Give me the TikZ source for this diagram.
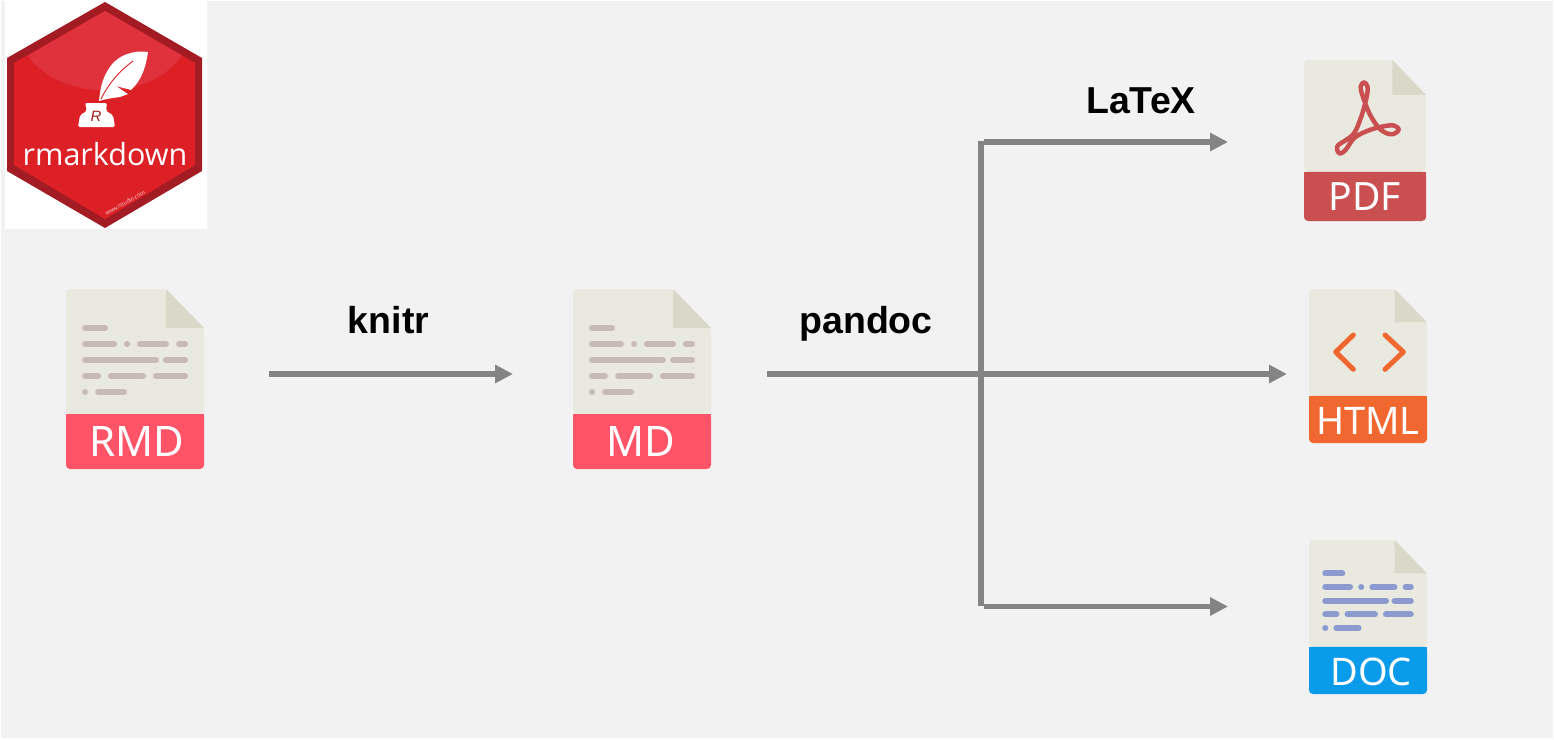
\documentclass[tikz,border=0pt]{standalone}
\usepackage{fontspec}
\setmainfont{Liberation Sans}
\newfontfamily\iconfont{Noto Sans}
\newfontfamily\hexfont{Open Sans}
\usetikzlibrary{arrows.meta}
\definecolor{bggrey}{HTML}{F2F2F2}
\definecolor{paper}{HTML}{E9E9E0}
\definecolor{foldc}{HTML}{D9D8C9}
\definecolor{rmdred}{HTML}{FF5367}
\definecolor{pdfred}{HTML}{C94F50}
\definecolor{htmlor}{HTML}{F0682F}
\definecolor{docblue}{HTML}{0A9BEA}
\definecolor{tanline}{HTML}{C8BBB7}
\definecolor{blueline}{HTML}{8B9BD0}
\definecolor{linkgrey}{HTML}{848484}
\definecolor{hexdark}{HTML}{A31C24}
\definecolor{hexred}{HTML}{DC2026}
\definecolor{hexlight}{HTML}{E0323C}
\tikzset{
  link/.style={draw=linkgrey,line width=5.8pt},
  arrowlink/.style={link,-{Triangle[length=18pt,width=17.5pt]}},
  steplabel/.style={font=\fontsize{37.5}{40}\selectfont\bfseries,text=black,inner sep=0pt,anchor=base},
  bandlabel/.style={text=white,inner sep=0pt,anchor=center},
  textline/.style={line width=6pt,line cap=round}
}
% #1 x, #2 y, #3 width, #4 height, #5 band colour
\newcommand{\fileicon}[5]{%
  \begin{scope}[shift={(#1,#2)},xscale=#3/138,yscale=#4/180]
    \fill[paper,rounded corners=4pt] (0,125) -- (0,0) -- (100,0) -- (138,39) -- (138,125) -- cycle;
    \fill[foldc] (100,0) -- (138,39) -- (100,39) -- cycle;
    \fill[#5,rounded corners=4pt] (0,125) -- (0,180) -- (138,180) -- (138,125) -- cycle;
    \fill[#5] (0,125) rectangle (138,135);
  \end{scope}}
% #1 x, #2 y, #3 width, #4 height, #5 line colour
\newcommand{\textlines}[5]{%
  \begin{scope}[shift={(#1,#2)},xscale=#3/138,yscale=#4/180]
    \draw[textline,#5]
      (19,39) -- (39,39)
      (19,55) -- (48,55) (61,55) -- (61.1,55) (74,55) -- (100,55) (113,55) -- (119,55)
      (19,71) -- (90,71) (100,71) -- (119,71)
      (19,87) -- (32,87) (45,87) -- (77,87) (90,87) -- (119,87)
      (19,103) -- (19.1,103) (32,103) -- (58,103);
  \end{scope}}
\begin{document}
\begin{tikzpicture}[x=1pt,y=-1pt]
\useasboundingbox (0,0) rectangle (1554,739);
\fill[white] (0,0) rectangle (1554,739);
\fill[bggrey] (1,1) rectangle (1553,738);

% logo
\fill[white] (5,1) rectangle (207,229);
\fill[hexdark] (105,2) -- (202,58) -- (202,171) -- (105,228) -- (7,171) -- (7,58) -- cycle;
\fill[hexred] (105,11) -- (195,63) -- (195,165) -- (105,219) -- (14,165) -- (14,63) -- cycle;
\fill[hexlight] (105,11) -- (182,55.5) .. controls (150,102) and (60,102) .. (28,55.5) -- cycle;
\fill[white] (148,52) .. controls (135,50) and (117,54) .. (108,70)
  .. controls (101,81) and (100,92) .. (99,101)
  .. controls (105,99) and (113,98) .. (120,97)
  -- (128,94) -- (116,86) -- (131,90)
  .. controls (142,80) and (146,66) .. (148,52) -- cycle;
\draw[hexred,line width=0.9pt] (101,99) .. controls (108,85) and (118,72) .. (133,61);
\fill[white,rounded corners=2pt] (78,127) -- (80,115) -- (87,111) -- (85,103) -- (107,103) -- (106,111) -- (113,115) -- (115,127) -- cycle;
\node[font=\fontsize{15}{15}\selectfont\itshape,text=hexdark,inner sep=0pt] (logoR) at (96,116) {R};
\node[font=\fontsize{30.5}{33}\selectfont\hexfont,text=white,inner sep=0pt] (logotext) at (105,154) {rmarkdown};
\node[font=\fontsize{5.5}{6}\selectfont\hexfont,text=white!85!hexred,rotate=30,inner sep=0pt] (logourl) at (125,203) {www.rstudio.com};

% file icons
\fileicon{66}{289}{138}{180}{rmdred}
\textlines{66}{289}{138}{180}{tanline}
\fileicon{573}{289}{138}{180}{rmdred}
\textlines{573}{289}{138}{180}{tanline}
\fileicon{1304}{60}{122}{161}{pdfred}
\fileicon{1309}{289}{118}{154}{htmlor}
\fileicon{1309}{540}{118}{154}{docblue}
\textlines{1309}{540}{118}{154}{blueline}

% PDF glyph
\begin{scope}[shift={(1290,50)},x=0.3333pt,y=-0.3333pt]
  \draw[pdfred,line width=4.5pt,line join=round] plot[smooth cycle,tension=0.6] coordinates
    {(222,97) (233,112) (228,150) (212,205) (192,250) (165,272) (145,285) (141,298) (150,311) (168,298) (195,262) (245,238) (300,226) (322,232) (325,242) (310,252) (290,250) (265,232) (238,190) (217,135) (212,110)};
\end{scope}
% HTML glyph
\begin{scope}[shift={(1290,280)},x=0.3333pt,y=-0.3333pt]
  \draw[htmlor,line width=5pt,line cap=round,line join=round] (190,165) -- (137,216) -- (190,268);
  \draw[htmlor,line width=5pt,line cap=round,line join=round] (285,165) -- (340,216) -- (285,268);
\end{scope}

% band labels
\node[bandlabel,font=\fontsize{42}{44}\selectfont\iconfont] (rmdlabel) at (137,441) {RMD};
\node[bandlabel,font=\fontsize{42}{44}\selectfont\iconfont] (mdlabel) at (641,441) {MD};
\node[bandlabel,font=\fontsize{39}{41}\selectfont\iconfont] (pdflabel) at (1365,197) {PDF};
\node[bandlabel,font=\fontsize{38}{40}\selectfont\iconfont] (htmllabel) at (1368,421) {HTML};
\node[bandlabel,font=\fontsize{38}{40}\selectfont\iconfont] (doclabel) at (1371,672) {DOC};

% connector ends
\coordinate (knitrStart) at (269,374);
\coordinate (knitrEnd) at (513,374);
\coordinate (pandocStart) at (767,374);
\coordinate (htmlEnd) at (1287,374);
\coordinate (trunkTop) at (981,141);
\coordinate (trunkBottom) at (981,606);
\coordinate (latexStart) at (984,142);
\coordinate (latexEnd) at (1228,142);
\coordinate (docStart) at (984,606.5);
\coordinate (docEnd) at (1228,606.5);

\draw[arrowlink] (knitrStart) -- (knitrEnd);
\draw[arrowlink] (pandocStart) -- (htmlEnd);
\draw[link] (trunkTop) -- (trunkBottom);
\draw[arrowlink] (latexStart) -- (latexEnd);
\draw[arrowlink] (docStart) -- (docEnd);

% step labels
\node[steplabel] (knitr) at (388.5,333) {knitr};
\node[steplabel] (pandoc) at (866,333) {pandoc};
\node[steplabel] (latex) at (1141,113) {LaTeX};
\end{tikzpicture}
\end{document}
